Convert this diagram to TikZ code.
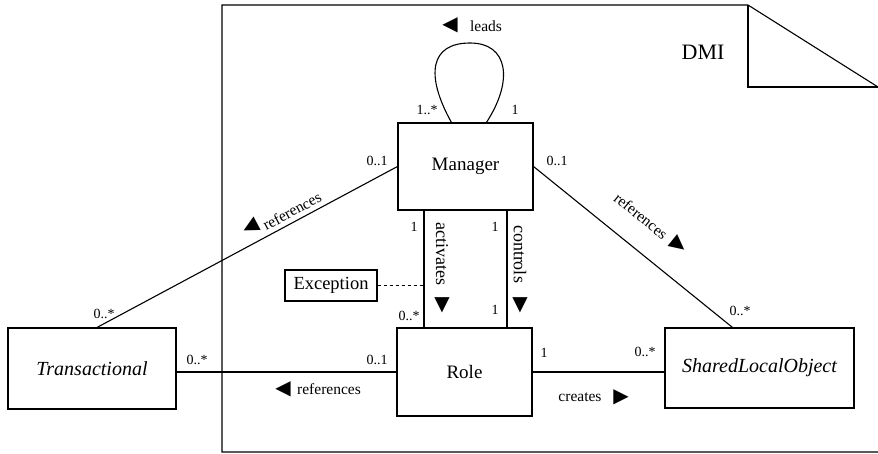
\documentclass[tikz,border=0pt]{standalone}
\usepackage{fontspec}
\setmainfont{Liberation Serif}
\newfontfamily\dvfont{DejaVu Sans}
\usetikzlibrary{calc}
\newcommand{\tl}{◀}
\newcommand{\tr}{▶}
\newcommand{\td}{▼}
\begin{document}
\begin{tikzpicture}[x=1pt,y=-1pt,
  ln/.style={line width=1.1pt},
  cls/.style={draw,line width=1.1pt,inner sep=0pt,font=\fontsize{19}{22}\selectfont},
  icls/.style={cls,font=\fontsize{20}{23}\selectfont\itshape},
  lbl/.style={inner sep=0pt,font=\fontsize{15.5}{18}\selectfont},
  vlbl/.style={inner sep=0pt,font=\fontsize{18}{20}\selectfont,rotate=-90},
  tri/.style={inner sep=0pt,font=\dvfont\fontsize{20}{20}\selectfont},
  mult/.style={inner sep=0pt,font=\fontsize{14}{16}\selectfont}]
\useasboundingbox (0,0) rectangle (878,453);
% frame
\draw[ln] (878,452) -- (222,452) -- (222,5) -- (748,5) -- (878,87);
\draw[ln] (748,5) -- (748,87) -- (878,87);
\node[inner sep=0pt,font=\fontsize{22}{24}\selectfont] (dmi) at (703,52) {DMI};
% classes
\node[cls,minimum width=135,minimum height=87] (mgr) at (465.5,166.5) {Manager};
\node[cls,minimum width=135,minimum height=88] (role) at (464.5,372) {Role};
\node[icls,minimum width=168,minimum height=81] (tra) at (92,368.5) {Transactional};
\node[icls,minimum width=189,minimum height=80] (slo) at (759.5,368) {SharedLocalObject};
\node[cls,minimum width=92,minimum height=31,font=\fontsize{18.5}{21}\selectfont] (exc) at (331,285.5) {Exception};
\coordinate (actx) at (424,0);
\coordinate (ctlx) at (507,0);
% leads loop
\draw[ln] ($(mgr.north west)+(54,0)$) .. controls (425,75) and (430,43) .. (470,43)
   .. controls (508,43) and (514,80) .. ($(mgr.north west)+(89,0)$);
\node[tri] (leadst) at (450,25) {\tl};
\node[lbl] (leads) at (486,26) {leads};
\node[mult] (m1) at (427,110) {1..*};
\node[mult] (m2) at (515,110) {1};
% references left
\draw[ln] (mgr.west) -- ($(tra.north)+(5,0)$);
\node[mult] (m3) at (377,161) {0..1};
\node[mult] (m4) at (104,314) {0..*};
\node[tri,rotate=28] (refltri) at (251,227) {\tl};
\node[lbl,rotate=28] (refl) at (292,211) {references};
% references right
\draw[ln] (mgr.east) -- ($(slo.north)+(-27,0)$);
\node[mult] (m5) at (557,161) {0..1};
\node[mult] (m6) at (740,311) {0..*};
\node[lbl,rotate=-39] (refr) at (641,216) {references};
\node[tri,rotate=-39] (refrtri) at (679,245) {\tr};
% activates
\draw[ln] (mgr.south -| actx) -- (role.north -| actx);
\node[mult] (m7) at (414,227) {1};
\node[mult] (m8) at (409,316) {0..*};
\node[vlbl] (act) at (442,254) {activates};
\node[tri] (actt) at (442,305) {\td};
\draw[ln,dashed] (exc.east) -- (exc.east -| actx);
% controls
\draw[ln] (mgr.south -| ctlx) -- (role.north -| ctlx);
\node[mult] (m9) at (495,227) {1};
\node[mult] (m10) at (495,310) {1};
\node[vlbl] (ctl) at (520,254) {controls};
\node[tri] (ctlt) at (520,305) {\td};
% Transactional - Role
\draw[ln] (role.west -| tra.east) -- (role.west);
\node[mult] (m11) at (197,360) {0..*};
\node[mult] (m12) at (377,360) {0..1};
\node[tri] (refbt) at (283,389) {\tl};
\node[lbl] (refb) at (329,389) {references};
% Role - SLO
\draw[ln] (role.east) -- (role.east -| slo.west);
\node[mult] (m13) at (544,353) {1};
\node[mult] (m14) at (645,352) {0..*};
\node[lbl] (cre) at (580,397) {creates};
\node[tri] (cret) at (621,397) {\tr};
\end{tikzpicture}
\end{document}
